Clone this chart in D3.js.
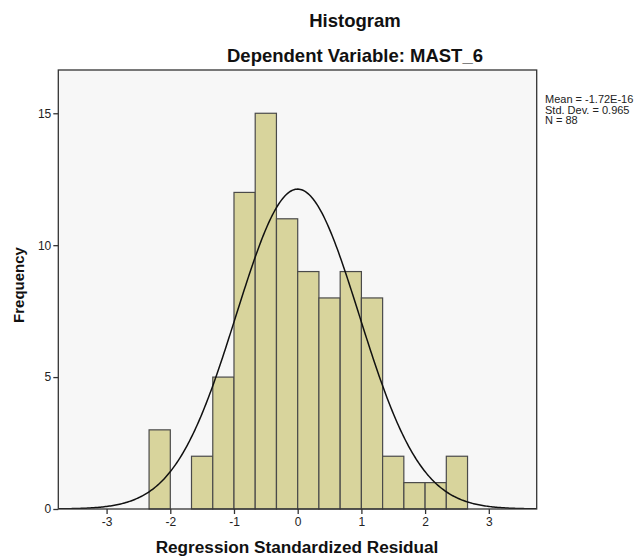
<!DOCTYPE html>
<html>
<head>
<meta charset="utf-8">
<script src="https://cdn.jsdelivr.net/npm/d3@7"></script>
<style>
  body { margin: 0; background: #fff; }
  svg { display: block; font-family: Arial, "Liberation Sans", sans-serif; }
</style>
</head>
<body>
<svg id="chart" width="643" height="560"></svg>
<script>
// ---- data ----
const binStarts = [-2.333, -2.000, -1.667, -1.333, -1.000, -0.667, -0.333, 0.000, 0.333, 0.667, 1.000, 1.333, 1.667, 2.000, 2.333];
const counts    = [3, 0, 2, 5, 12, 15, 11, 9, 8, 9, 8, 2, 1, 1, 2];
const binWidth  = 0.3333;
const xTicks = [-3, -2, -1, 0, 1, 2, 3];
const yTicks = [0, 5, 10, 15];
const statMean = -1.72e-16;
const statSD = 0.965;
const statN = 88;
const statLines = ["Mean = -1.72E-16", "Std. Dev. = 0.965", "N = 88"];
const title = "Histogram";
const subtitle = "Dependent Variable: MAST_6";
const xTitle = "Regression Standardized Residual";
const yTitle = "Frequency";

// ---- layout ----
const L = 58.3, R = 536.7, T = 70, B = 509;
const svg = d3.select("#chart");
const x = d3.scaleLinear().domain([-3.758, 3.752]).range([L, R]);
const y = d3.scaleLinear().domain([0, 16.64]).range([B, T]);

// plot background
svg.append("rect").attr("x", L).attr("y", T).attr("width", R - L).attr("height", B - T)
  .attr("fill", "#f7f7f7");

svg.append("defs").append("clipPath").attr("id", "clip")
  .append("rect").attr("x", L).attr("y", T).attr("width", R - L).attr("height", B - T);

// bars
const bins = binStarts.map((s, i) => ({ x0: s, x1: s + binWidth, n: counts[i] })).filter(d => d.n > 0);
svg.append("g").selectAll("rect").data(bins).join("rect")
  .attr("x", d => x(d.x0))
  .attr("y", d => y(d.n))
  .attr("width", d => x(d.x1) - x(d.x0))
  .attr("height", d => y(0) - y(d.n))
  .attr("fill", "#d8d49c")
  .attr("stroke", "#4a4a4a")
  .attr("stroke-width", 1.2);

// normal curve
const pdf = v => Math.exp(-0.5 * Math.pow((v - statMean) / statSD, 2)) / (statSD * Math.sqrt(2 * Math.PI));
const xs = d3.range(-3.758, 3.76, 0.02);
svg.append("path")
  .datum(xs)
  .attr("clip-path", "url(#clip)")
  .attr("fill", "none")
  .attr("stroke", "#111")
  .attr("stroke-width", 1.5)
  .attr("d", d3.line().x(v => x(v)).y(v => y(statN * binWidth * pdf(v))));

// frame
svg.append("rect").attr("x", L).attr("y", T).attr("width", R - L).attr("height", B - T)
  .attr("fill", "none").attr("stroke", "#333").attr("stroke-width", 1.3);

// axes
const fmt = d => String(d);
const xAxis = d3.axisBottom(x).tickValues(xTicks).tickSize(5).tickPadding(3).tickFormat(fmt);
const gx = svg.append("g").attr("transform", `translate(0,${B})`).call(xAxis);
gx.select(".domain").remove();
gx.selectAll("line").attr("stroke", "#333").attr("stroke-width", 1.3);
gx.selectAll("text").attr("font-size", 12).attr("fill", "#222").attr("font-family", "Arial, 'Liberation Sans', sans-serif");

const yAxis = d3.axisLeft(y).tickValues(yTicks).tickSize(5).tickPadding(2).tickFormat(fmt);
const gy = svg.append("g").attr("transform", `translate(${L},0)`).call(yAxis);
gy.select(".domain").remove();
gy.selectAll("line").attr("stroke", "#333").attr("stroke-width", 1.3);
gy.selectAll("text").attr("font-size", 12).attr("fill", "#222").attr("font-family", "Arial, 'Liberation Sans', sans-serif");

// titles
svg.append("text").attr("x", 355).attr("y", 27).attr("text-anchor", "middle")
  .attr("font-size", 18.5).attr("font-weight", "bold").attr("fill", "#111").text(title);
svg.append("text").attr("x", 355).attr("y", 62).attr("text-anchor", "middle")
  .attr("font-size", 18.5).attr("font-weight", "bold").attr("fill", "#111").text(subtitle);
svg.append("text").attr("x", 297).attr("y", 553).attr("text-anchor", "middle")
  .attr("font-size", 17.2).attr("font-weight", "bold").attr("fill", "#111").text(xTitle);
svg.append("text").attr("transform", "translate(24,285) rotate(-90)").attr("text-anchor", "middle")
  .attr("font-size", 15).attr("font-weight", "bold").attr("fill", "#111").text(yTitle);

// stats
svg.append("g").selectAll("text").data(statLines).join("text")
  .attr("x", 545).attr("y", (d, i) => 103 + i * 10.5)
  .attr("font-size", 11).attr("fill", "#222").text(d => d);
</script>
</body>
</html>
